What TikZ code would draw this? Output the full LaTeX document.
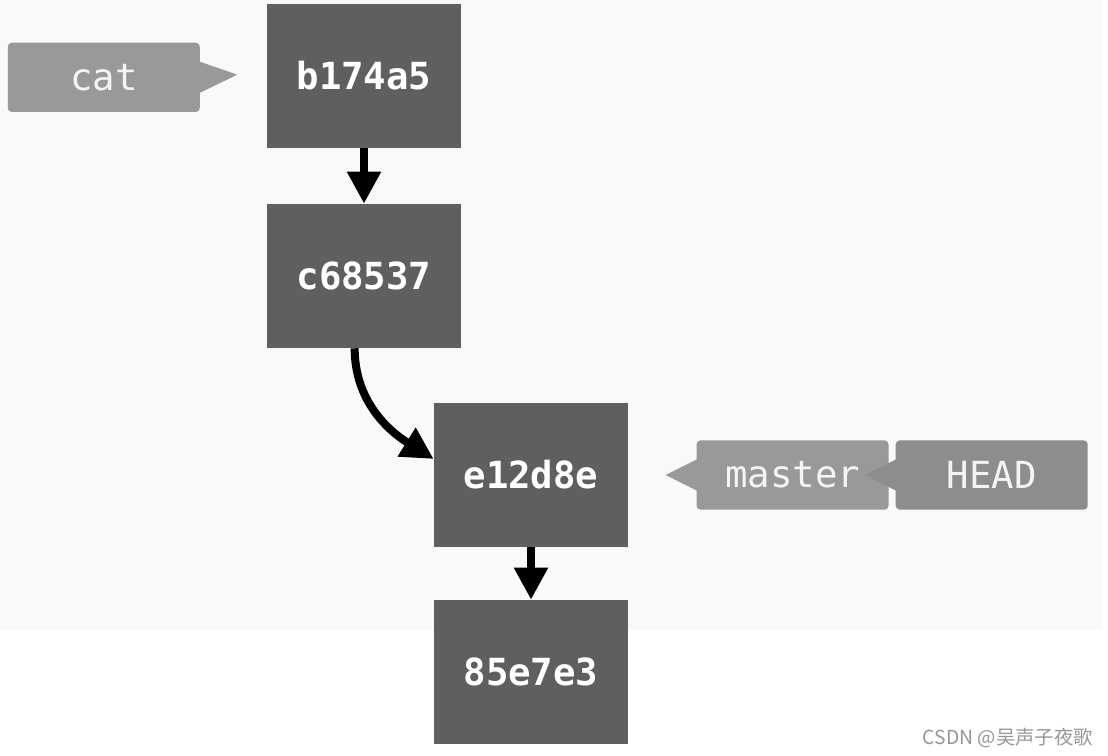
\documentclass[tikz,border=0pt]{standalone}
\usepackage{fontspec}
\setmonofont{DejaVu Sans Mono}
\newfontfamily\cjkfont{Noto Sans CJK SC}
\usetikzlibrary{positioning, arrows.meta, calc}
\definecolor{bgGray}{RGB}{249,249,249}
\definecolor{commitGray}{RGB}{95,95,95}
\definecolor{refGray}{RGB}{153,153,153}
\definecolor{headGray}{RGB}{141,141,141}
\definecolor{refText}{RGB}{244,244,244}
\definecolor{markGray}{RGB}{150,150,150}

\begin{document}
\begin{tikzpicture}[
  x=0.75pt, y=-0.75pt,
  commit/.style={fill=commitGray, text=white, inner sep=0pt,
    font=\ttfamily\bfseries\fontsize{28}{32}\selectfont,
    minimum width=145.5pt, minimum height=108pt},
  branch/.style={fill=refGray, text=refText, inner sep=0pt, rounded corners=3pt,
    font=\ttfamily\fontsize{28}{32}\selectfont,
    minimum width=144pt, minimum height=52pt},
  link/.style={line width=6pt, -{Triangle[length=24pt, width=24pt]}},
]
  \useasboundingbox (0,0) rectangle (1108,756);
  \fill[bgGray] (0,0) rectangle (1103,630);

  % commits
  \node[commit] (b174a5) at (364,76) {b174a5};
  \node[commit] (c68537) at (364,276) {c68537};
  \node[commit] (e12d8e) at (531,475) {e12d8e};
  \node[commit] (85e7e3) at (531,672) {85e7e3};

  \draw[link] (b174a5.south) -- (c68537.north);
  \draw[link] ($(c68537.south)+(-7pt,0)$) to[out=-90, in=148] ($(e12d8e.west)+(0,12pt)$);
  \draw[link] (e12d8e.south) -- (85e7e3.north);

  % branch labels
  \node[branch, left=50pt of b174a5, yshift=-1pt] (cat) {cat};
  \fill[refGray] ($(cat.east)+(-1pt,12pt)$) -- ($(cat.east)+(28pt,2pt)$)
    -- ($(cat.east)+(-1pt,-12pt)$) -- cycle;

  \node[branch, right=51pt of e12d8e] (master) {master};
  \fill[refGray] ($(master.west)+(1pt,12pt)$) -- ($(master.west)+(-23pt,0)$)
    -- ($(master.west)+(1pt,-12pt)$) -- cycle;

  \node[branch, fill=headGray, right=5pt of master] (head) {HEAD};
  \fill[headGray] ($(head.west)+(1pt,12pt)$) -- ($(head.west)+(-23pt,0)$)
    -- ($(head.west)+(1pt,-12pt)$) -- cycle;

  \node[anchor=south east, inner sep=0pt, text=markGray,
    font=\cjkfont\fontsize{14.5}{17}\selectfont] (mark) at (1093,748) {CSDN @吴声子夜歌};
\end{tikzpicture}
\end{document}
